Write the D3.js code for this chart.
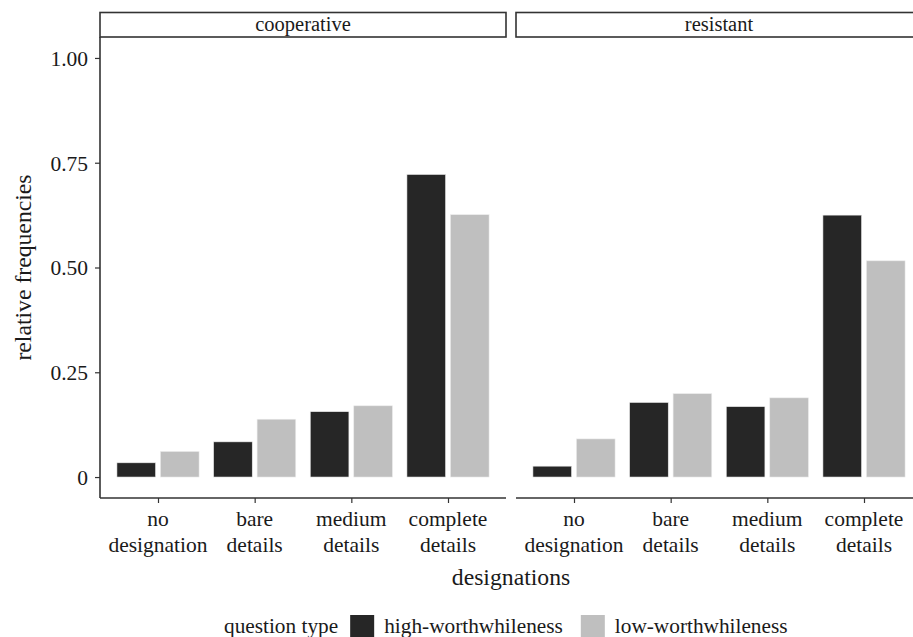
<!DOCTYPE html>
<html><head><meta charset="utf-8">
<script src="https://cdn.jsdelivr.net/npm/d3@7"></script>
<style>body{margin:0;background:#fff}svg{display:block}text{font-family:"Liberation Serif","Times New Roman",serif;fill:#1a1a1a}</style>
</head><body><svg id="c" width="913" height="637"></svg>
<script>
const panels = ["cooperative", "resistant"];
const categories = ["no designation", "bare details", "medium details", "complete details"];
const categoryLines = [["no", "designation"], ["bare", "details"], ["medium", "details"], ["complete", "details"]];
const series = ["high-worthwhileness", "low-worthwhileness"];
const cooperativeHigh = [0.034, 0.084, 0.156, 0.722];
const cooperativeLow = [0.061, 0.138, 0.170, 0.626];
const resistantHigh = [0.026, 0.178, 0.168, 0.625];
const resistantLow = [0.091, 0.199, 0.189, 0.516];
const yTicks = [0, 0.25, 0.5, 0.75, 1.0];
const yTickLabels = ["0", "0.25", "0.50", "0.75", "1.00"];
const colors = ["#262626", "#bfbfbf"];

const data = {
  cooperative: [cooperativeHigh, cooperativeLow],
  resistant: [resistantHigh, resistantLow]
};

const svg = d3.select("#c");
const panelX = [100, 516], panelW = 406;
const plotTop = 37, plotBottom = 498;
const fs = 21.5;
const titleFs = 23.7;
const y = d3.scaleLinear().domain([-0.05, 1.05]).range([plotBottom, plotTop]);

panels.forEach((p, pi) => {
  const x0 = panelX[pi];
  const x = d3.scalePoint().domain(categories).range([x0, x0 + panelW]).padding(0.6);
  const step = x.step();
  const xs = d3.scaleBand().domain(series).range([-0.45 * step, 0.45 * step]);
  const bw = 0.4 * step;
  const g = svg.append("g");
  // strip
  g.append("rect").attr("x", x0).attr("y", 12.5).attr("width", panelW).attr("height", plotTop - 12.5)
    .attr("fill", "#fff").attr("stroke", "#333").attr("stroke-width", 1.6);
  g.append("text").attr("x", x0 + panelW / 2).attr("y", 30.5).attr("text-anchor", "middle")
    .style("font-size", "20.5px").text(p);
  // bars
  series.forEach((s, si) => {
    g.selectAll(null).data(data[p][si]).enter().append("rect")
      .attr("x", (d, i) => x(categories[i]) + xs(s) + xs.bandwidth() / 2 - bw / 2)
      .attr("width", bw)
      .attr("y", d => y(d))
      .attr("height", d => y(0) - y(d))
      .attr("fill", colors[si])
      .attr("stroke", "#ececec").attr("stroke-width", 0.6);
  });
  // x axis
  const xa = g.append("g").attr("transform", `translate(0,${plotBottom})`)
    .call(d3.axisBottom(x).tickSize(5).tickFormat(""));
  xa.select(".domain").attr("stroke", "#333").attr("stroke-width", 1.6).attr("d", `M${x0},0H${x0 + panelW}`);
  xa.selectAll(".tick line").attr("stroke", "#333").attr("stroke-width", 1.2);
  categories.forEach((c, i) => {
    const t = g.append("text").attr("x", x(c)).attr("y", 526).attr("text-anchor", "middle").style("font-size", fs + "px");
    categoryLines[i].forEach((ln, li) => t.append("tspan").attr("x", x(c)).attr("dy", li === 0 ? 0 : 25.5).text(ln));
  });
  if (pi === 0) {
    const ya = g.append("g").attr("transform", `translate(${x0},0)`)
      .call(d3.axisLeft(y).tickValues(yTicks).tickSize(5).tickFormat((d, i) => yTickLabels[i]));
    ya.select(".domain").attr("stroke", "#333").attr("stroke-width", 1.6).attr("d", `M0,${plotTop}V${plotBottom}`);
    ya.selectAll(".tick line").attr("stroke", "#333").attr("stroke-width", 1.2);
    ya.selectAll(".tick text").attr("x", -12).attr("dy", "0.34em").style("font-size", fs + "px")
      .style("font-family", '"Liberation Serif",serif').attr("fill", "#1a1a1a");
  }
});

// axis titles
svg.append("text").attr("x", 511).attr("y", 585).attr("text-anchor", "middle").style("font-size", titleFs + "px").text("designations");
svg.append("text").attr("transform", `translate(31,${(plotTop + plotBottom) / 2}) rotate(-90)`).attr("text-anchor", "middle")
  .style("font-size", titleFs + "px").text("relative frequencies");

// legend
const lg = svg.append("g");
let lx = 224;
const ly = 632.5;
const lfs = "21.3px";
const title = lg.append("text").attr("x", lx).attr("y", ly).style("font-size", lfs).text("question type");
lx += title.node().getComputedTextLength() + 12;
series.forEach((s, si) => {
  lg.append("rect").attr("x", lx).attr("y", 615).attr("width", 24).attr("height", 24).attr("fill", colors[si]);
  lx += 24 + 10;
  const t = lg.append("text").attr("x", lx).attr("y", ly).style("font-size", lfs).text(s);
  lx += t.node().getComputedTextLength() + 18;
});
</script></body></html>
